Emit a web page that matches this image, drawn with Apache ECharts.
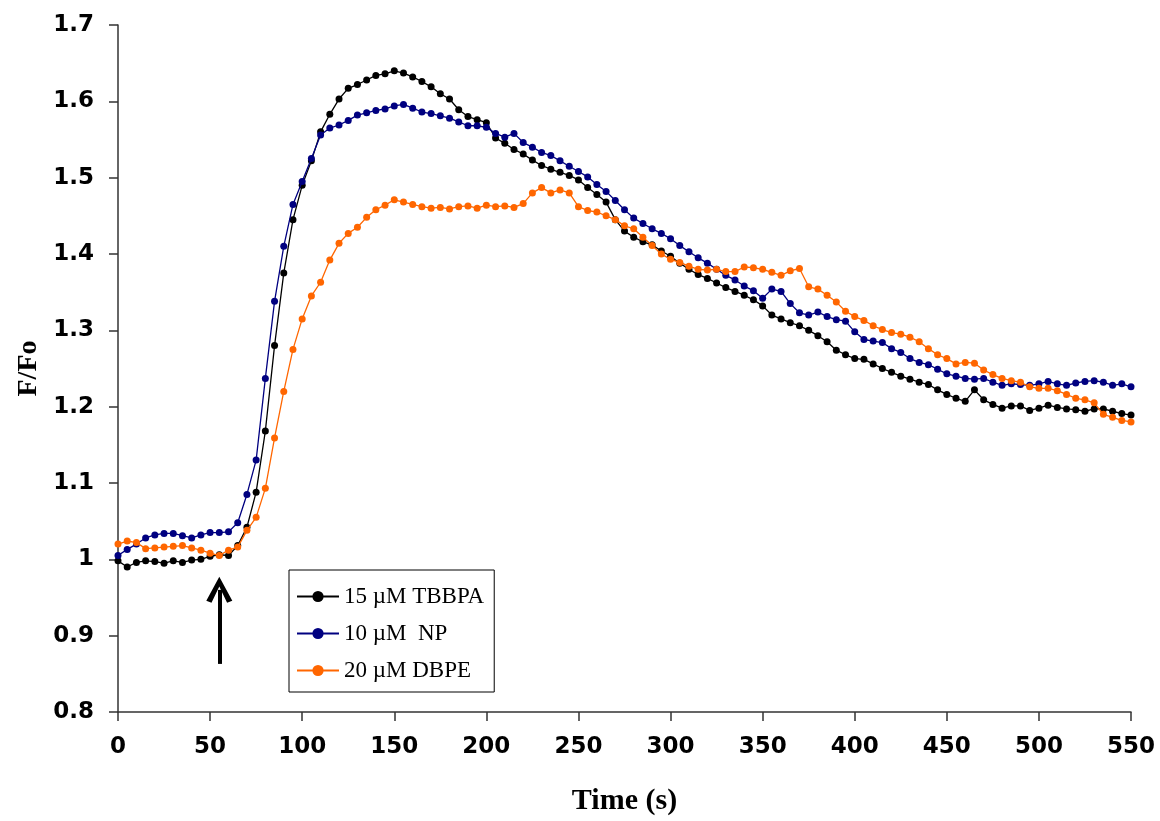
<!DOCTYPE html>
<html>
<head>
<meta charset="utf-8">
<script src="https://cdn.jsdelivr.net/npm/echarts@6/dist/echarts.min.js"></script>
<style>
html,body{margin:0;padding:0;background:#fff;}
#chart{width:1160px;height:821px;}
</style>
</head>
<body>
<div id="chart"></div>
<script>
var times = [];
for (var i = 0; i <= 110; i++) { times.push(i * 5); }

var tbbpa = [
0.998,0.990,0.996,0.998,0.997,0.995,0.998,0.996,0.999,1.000,
1.004,1.006,1.005,1.018,1.042,1.088,1.168,1.280,1.375,1.445,
1.490,1.522,1.560,1.583,1.603,1.617,1.622,1.628,1.634,1.636,
1.640,1.637,1.632,1.626,1.619,1.610,1.603,1.589,1.580,1.576,
1.572,1.552,1.545,1.537,1.531,1.523,1.516,1.511,1.507,1.503,
1.497,1.487,1.478,1.468,1.445,1.430,1.422,1.416,1.412,1.404,
1.397,1.388,1.380,1.373,1.368,1.362,1.356,1.351,1.346,1.340,
1.332,1.320,1.315,1.310,1.306,1.300,1.293,1.285,1.274,1.268,
1.263,1.262,1.256,1.250,1.245,1.240,1.236,1.232,1.229,1.222,
1.216,1.211,1.207,1.222,1.209,1.203,1.198,1.201,1.201,1.195,
1.198,1.202,1.199,1.197,1.196,1.194,1.197,1.197,1.194,1.191,
1.189
];

var np = [
1.005,1.013,1.020,1.028,1.032,1.034,1.034,1.031,1.028,1.032,
1.035,1.035,1.036,1.048,1.085,1.130,1.237,1.338,1.410,1.465,
1.495,1.525,1.556,1.565,1.569,1.575,1.582,1.585,1.588,1.590,
1.594,1.596,1.591,1.586,1.584,1.581,1.578,1.573,1.568,1.568,
1.566,1.558,1.553,1.558,1.546,1.540,1.533,1.529,1.522,1.515,
1.508,1.501,1.491,1.482,1.470,1.458,1.447,1.440,1.433,1.427,
1.420,1.411,1.403,1.395,1.388,1.380,1.372,1.366,1.358,1.352,
1.342,1.354,1.351,1.335,1.323,1.320,1.324,1.318,1.314,1.312,
1.298,1.288,1.286,1.284,1.276,1.271,1.263,1.258,1.255,1.249,
1.243,1.240,1.237,1.236,1.237,1.232,1.228,1.230,1.229,1.228,
1.230,1.233,1.230,1.228,1.231,1.233,1.234,1.232,1.228,1.230,
1.226
];

var dbpe = [
1.020,1.024,1.022,1.014,1.015,1.016,1.017,1.018,1.015,1.012,
1.008,1.005,1.012,1.016,1.038,1.055,1.093,1.159,1.220,1.275,
1.315,1.345,1.363,1.392,1.414,1.427,1.435,1.448,1.458,1.464,
1.471,1.468,1.465,1.462,1.460,1.461,1.459,1.462,1.463,1.460,
1.464,1.462,1.463,1.461,1.466,1.480,1.487,1.480,1.484,1.480,
1.462,1.457,1.455,1.450,1.445,1.437,1.433,1.422,1.411,1.400,
1.393,1.389,1.384,1.380,1.379,1.380,1.377,1.377,1.383,1.382,
1.380,1.376,1.372,1.378,1.381,1.357,1.354,1.346,1.337,1.325,
1.318,1.313,1.306,1.301,1.297,1.295,1.291,1.285,1.276,1.268,
1.263,1.256,1.258,1.257,1.248,1.242,1.237,1.234,1.232,1.226,
1.224,1.224,1.221,1.216,1.211,1.209,1.205,1.190,1.186,1.182,
1.180
];

var seriesNames = ['15 \u00B5M TBBPA', '10 \u00B5M  NP', '20 \u00B5M DBPE'];
var seriesColors = ['#000000', '#000080', '#FF6600'];
var arrowX = 55;
var arrowFrom = 0.863;
var arrowTo = 0.960;

function pairs(arr) {
  return arr.map(function (v, i) { return [times[i], v]; });
}

var allData = [tbbpa, np, dbpe];
var series = allData.map(function (d, k) {
  return {
    name: seriesNames[k],
    type: 'line',
    data: pairs(d),
    symbol: 'circle',
    symbolSize: 7,
    showAllSymbol: true,
    lineStyle: { color: seriesColors[k], width: 1.3 },
    itemStyle: { color: seriesColors[k] },
    emphasis: { disabled: true },
    animation: false,
    z: 2 + k
  };
});

series[0].markLine = {
  silent: true,
  animation: false,
  symbol: ['none', 'path://M0,11 L5,0 L10,11 L8,12 L5,4.5 L2,12 Z'],
  symbolSize: [26, 26],
  label: { show: false },
  lineStyle: { color: '#000', width: 4, type: 'solid' },
  data: [[{ coord: [arrowX, arrowFrom] }, { coord: [arrowX, arrowTo] }]]
};

var chart = echarts.init(document.getElementById('chart'), null, { renderer: 'canvas' });
chart.setOption({
  backgroundColor: '#ffffff',
  animation: false,
  grid: { left: 118, right: 29, top: 25, bottom: 106, containLabel: false },
  legend: {
    left: 289,
    top: 570,
    orient: 'vertical',
    itemWidth: 42,
    itemHeight: 14,
    itemGap: 14,
    padding: [15, 10, 10, 7],
    borderColor: '#000',
    borderWidth: 1,
    backgroundColor: '#fff',
    selectedMode: false,
    textStyle: { fontFamily: 'Liberation Serif', fontSize: 23, color: '#000' },
    data: seriesNames
  },
  xAxis: {
    type: 'value',
    min: 0,
    max: 550,
    interval: 50,
    name: 'Time (s)',
    nameLocation: 'middle',
    nameGap: 74,
    nameTextStyle: { fontFamily: 'Liberation Serif', fontWeight: 'bold', fontSize: 30, color: '#000' },
    axisLine: { show: true, lineStyle: { color: '#333', width: 1.5 } },
    axisTick: { show: true, inside: false, length: 9, lineStyle: { color: '#333', width: 1.5 } },
    axisLabel: { margin: 24, fontFamily: 'DejaVu Sans', fontWeight: 'bold', fontSize: 23, color: '#000' },
    splitLine: { show: false }
  },
  yAxis: {
    type: 'value',
    min: 0.8,
    max: 1.7,
    interval: 0.1,
    name: 'F/Fo',
    nameLocation: 'middle',
    nameGap: 72,
    nameRotate: 90,
    nameTextStyle: { fontFamily: 'Liberation Serif', fontWeight: 'bold', fontSize: 28, color: '#000' },
    axisLine: { show: true, onZero: false, lineStyle: { color: '#333', width: 1.5 } },
    axisTick: { show: true, inside: false, length: 9, lineStyle: { color: '#333', width: 1.5 } },
    axisLabel: {
      margin: 24, fontFamily: 'DejaVu Sans', fontWeight: 'bold', fontSize: 23, color: '#000',
      formatter: function (v) { return String(Math.round(v * 10) / 10); }
    },
    splitLine: { show: false }
  },
  series: series
});
</script>
</body>
</html>
